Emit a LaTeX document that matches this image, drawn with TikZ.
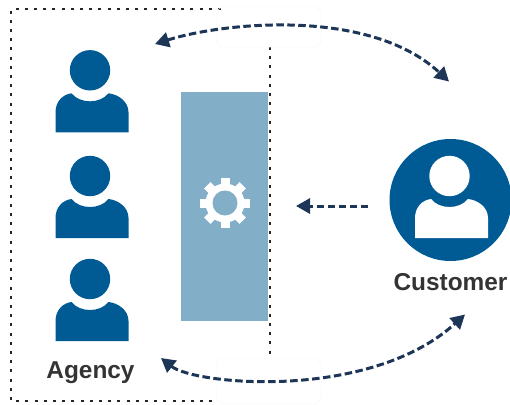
\documentclass[tikz,border=0pt]{standalone}
\usepackage{fontspec}
\setmainfont{Liberation Sans}
\usetikzlibrary{arrows.meta}
\definecolor{peopleblue}{HTML}{005B94}
\definecolor{panelblue}{HTML}{82AEC8}
\definecolor{arrownavy}{HTML}{1D3557}
\definecolor{labelgray}{HTML}{333333}
\tikzset{
  person/.pic={
    \path[pic actions] (0,-62) circle (20.2);
    \path[pic actions] (-34.5,0) -- (-34.5,-20)
      .. controls (-34.5,-31) and (-27,-38) .. (-18.5,-39)
      .. controls (-10,-28.3) and (10,-28.3) .. (18.5,-39)
      .. controls (28,-38) and (38.5,-31) .. (38.5,-20)
      -- (38.5,0) -- cycle;
  },
  boundary/.style={line width=1.7pt, black!85, dash pattern=on 3pt off 6.2pt},
  flow/.style={line width=3pt, arrownavy, dash pattern=on 7.5pt off 3.5pt,
    -{Triangle[length=14pt,width=15pt]}},
  both flow/.style={flow, {Triangle[length=14pt,width=15pt]}-{Triangle[length=14pt,width=15pt]}},
  mask/.style={draw=black!3, line width=0.5pt, rounded corners=8pt},
  name label/.style={font=\fontsize{24.4}{28}\selectfont\bfseries, text=labelgray, inner sep=0pt}
}
\begin{document}
\begin{tikzpicture}[x=1pt,y=-1pt]
  \useasboundingbox (0,0) rectangle (510,404);
  % Dotted agency boundary
  \coordinate (topleft) at (11,9);
  \coordinate (topright) at (221,9);
  \coordinate (bottomleft) at (11,401);
  \coordinate (bottomright) at (215,401);
  \coordinate (edgetop) at (270,47);
  \coordinate (edgebottom) at (270,356);
  \draw[boundary] (topright) -- (topleft) -- (bottomleft) -- (bottomright);
  \draw[boundary] (edgetop) -- (edgebottom);
  \draw[mask] (216,47) rectangle (321,7);
  \draw[mask] (216,404) rectangle (321,358);
  % Agency people
  \foreach \y in {132.3,238,341}
    \pic[fill=peopleblue] at (90,\y) {person};
  \node[name label] (agency) at (90.5,373) {Agency};
  % Panel with gear
  \fill[panelblue] (180.5,91.7) rectangle (267.5,321);
  \coordinate (gear) at (225,203);
  \foreach \a in {0,45,...,315}
    \draw[white, line width=9pt] (gear) ++(\a:14) -- ++(\a:11);
  \fill[white] (gear) circle (19.5);
  \fill[panelblue] (gear) circle (12.5);
  % Customer
  \fill[peopleblue] (450.5,200) circle (61);
  \pic[fill=white] at (449.5,238) {person};
  \node[name label, anchor=base] (customer) at (450.5,290) {Customer};
  % Flows
  \coordinate (agencytop) at (155,44);
  \coordinate (customertop) at (449,81.5);
  \coordinate (agencybottom) at (161,358);
  \coordinate (customerbottom) at (465,314.5);
  \coordinate (flowstart) at (368,206);
  \coordinate (flowend) at (296,206);
  \draw[both flow] (agencytop) .. controls (225,22) and (370,8) .. (customertop);
  \draw[both flow] (agencybottom) .. controls (195,385) and (370,401) .. (customerbottom);
  \draw[flow] (flowstart) -- (flowend);
\end{tikzpicture}
\end{document}
